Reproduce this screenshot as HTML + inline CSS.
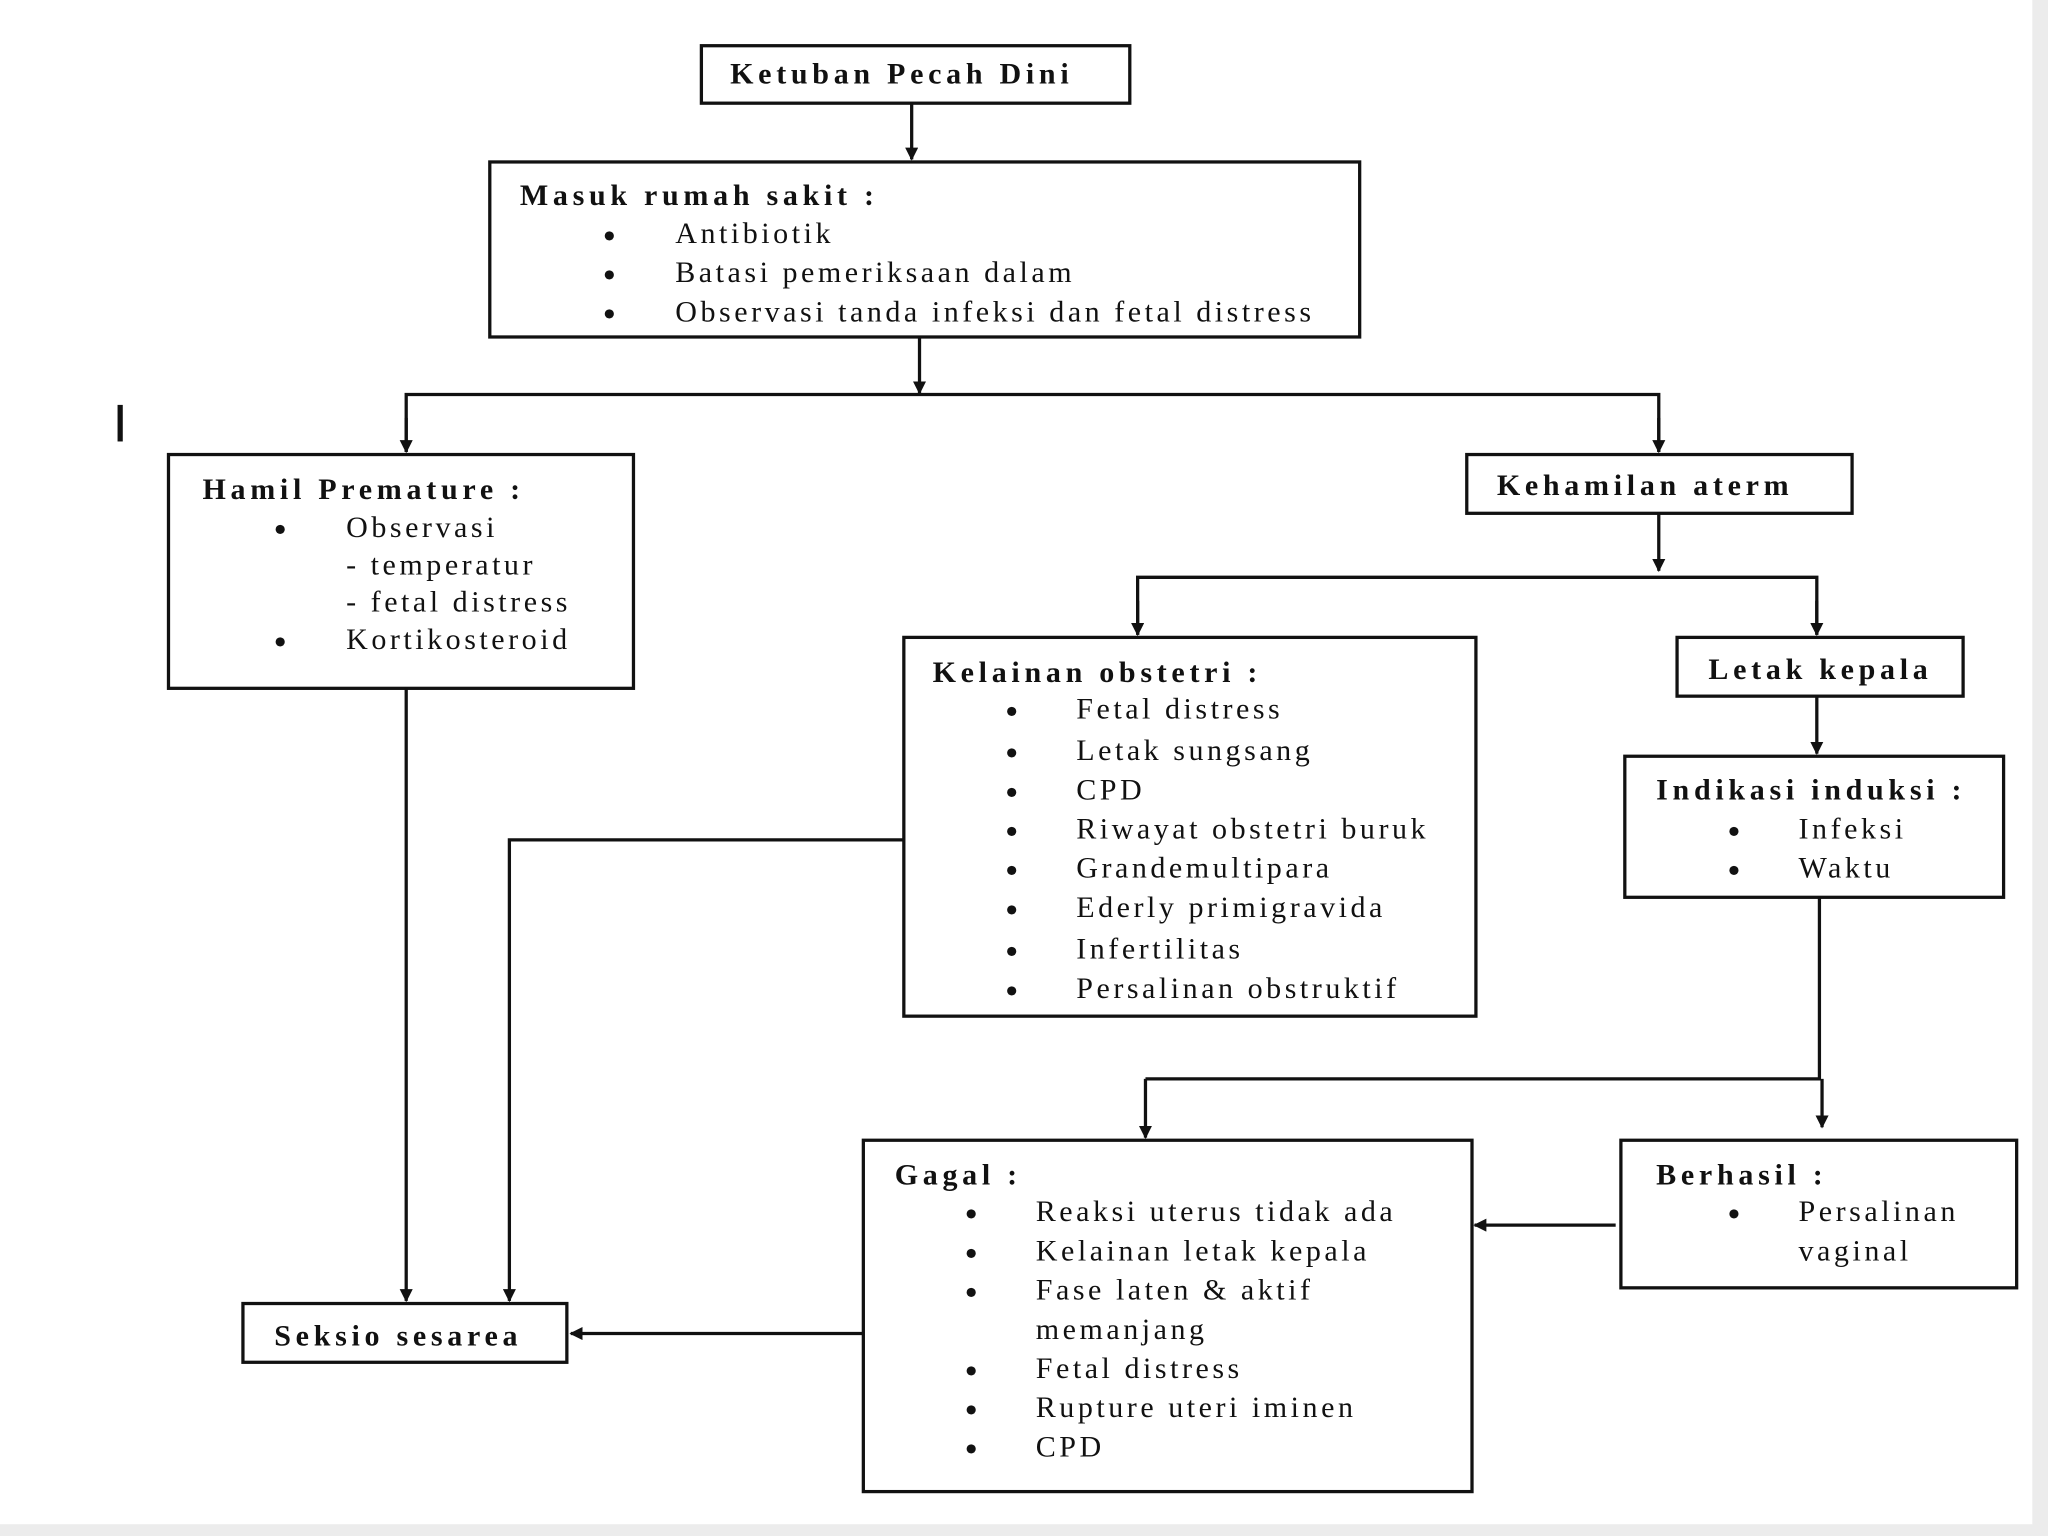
<!DOCTYPE html>
<html><head><meta charset="utf-8"><style>
html,body{margin:0;padding:0;background:#fff;}
svg{display:block;}
text{font-family:"Liberation Serif",serif;font-size:23px;fill:#111;letter-spacing:2.7px;}
.b{font-weight:bold;letter-spacing:3.6px;}
.d{font-size:26px;font-weight:bold;letter-spacing:0;}
</style></head><body>
<svg width="2048" height="1536" viewBox="0 0 1568 1176" preserveAspectRatio="none" xmlns="http://www.w3.org/2000/svg">
<defs><marker id="a" markerWidth="10" markerHeight="10" refX="9" refY="5" orient="auto" markerUnits="userSpaceOnUse"><path d="M0,0 L10,5 L0,10 z" fill="#111"/></marker></defs>
<rect x="0" y="0" width="1568" height="1176" fill="#fff"/>
<rect x="1556" y="0" width="12" height="1176" fill="#ececec"/>
<rect x="0" y="1167" width="1568" height="9" fill="#ececec"/>
<g fill="none" stroke="#111" stroke-width="2.5">
<rect x="537" y="35" width="328" height="44"/>
<rect x="375" y="124" width="666" height="134"/>
<rect x="129" y="348" width="356" height="179"/>
<rect x="1123" y="348" width="295" height="45"/>
<rect x="692" y="488" width="438" height="290"/>
<rect x="1284" y="488" width="219" height="45"/>
<rect x="1244" y="579" width="290" height="108"/>
<rect x="661" y="873" width="466" height="269"/>
<rect x="1241" y="873" width="303" height="113"/>
<rect x="186" y="998" width="248" height="45"/>
</g>
<g fill="none" stroke="#111" stroke-width="2.5">
<line x1="698" y1="79" x2="698" y2="122" marker-end="url(#a)"/>
<line x1="704" y1="258" x2="704" y2="301" marker-end="url(#a)"/>
<polyline points="311,346 311,302 1270,302 1270,346"/>
<line x1="311" y1="320" x2="311" y2="346" marker-end="url(#a)"/>
<line x1="1270" y1="320" x2="1270" y2="346" marker-end="url(#a)"/>
<line x1="1270" y1="393" x2="1270" y2="437" marker-end="url(#a)"/>
<polyline points="871,486 871,442 1391,442 1391,486"/>
<line x1="871" y1="460" x2="871" y2="486" marker-end="url(#a)"/>
<line x1="1391" y1="460" x2="1391" y2="486" marker-end="url(#a)"/>
<line x1="1391" y1="533" x2="1391" y2="577" marker-end="url(#a)"/>
<polyline points="1393,687 1393,826 877,826"/>
<line x1="877" y1="826" x2="877" y2="871" marker-end="url(#a)"/>
<line x1="1395" y1="826" x2="1395" y2="863" marker-end="url(#a)"/>
<line x1="1237" y1="938" x2="1129" y2="938" marker-end="url(#a)"/>
<line x1="311" y1="527" x2="311" y2="996" marker-end="url(#a)"/>
<polyline points="692,643 390,643 390,996" marker-end="url(#a)"/>
<line x1="661" y1="1021" x2="437" y2="1021" marker-end="url(#a)"/>
<line x1="92" y1="310" x2="92" y2="338" stroke-width="4"/>
</g>
<text class="b" x="559" y="64">Ketuban Pecah  Dini</text>
<text class="b" x="398" y="157">Masuk rumah sakit :</text>
<g><text class="d" x="462" y="189">•</text><text x="517" y="186">Antibiotik</text>
<text class="d" x="462" y="219">•</text><text x="517" y="216">Batasi pemeriksaan  dalam</text>
<text class="d" x="462" y="249">•</text><text x="517" y="246">Observasi tanda  infeksi dan fetal  distress</text></g>
<text class="b" x="155" y="382">Hamil Premature :</text>
<text class="d" x="210" y="414">•</text><text x="265" y="411">Observasi</text>
<text x="265" y="440">- temperatur</text>
<text x="265" y="468">- fetal distress</text>
<text class="d" x="210" y="500">•</text><text x="265" y="497">Kortikosteroid</text>
<text class="b" x="1146" y="379">Kehamilan aterm</text>
<text class="b" x="714" y="522">Kelainan obstetri :</text>
<g>
<text class="d" x="770" y="553">•</text><text x="824" y="550">Fetal distress</text>
<text class="d" x="770" y="585">•</text><text x="824" y="582">Letak sungsang</text>
<text class="d" x="770" y="615">•</text><text x="824" y="612">CPD</text>
<text class="d" x="770" y="645">•</text><text x="824" y="642">Riwayat obstetri buruk</text>
<text class="d" x="770" y="675">•</text><text x="824" y="672">Grandemultipara</text>
<text class="d" x="770" y="705">•</text><text x="824" y="702">Ederly primigravida</text>
<text class="d" x="770" y="737">•</text><text x="824" y="734">Infertilitas</text>
<text class="d" x="770" y="767">•</text><text x="824" y="764">Persalinan obstruktif</text>
</g>
<text class="b" x="1308" y="520">Letak kepala</text>
<text class="b" x="1268" y="612">Indikasi induksi :</text>
<text class="d" x="1323" y="645">•</text><text x="1377" y="642">Infeksi</text>
<text class="d" x="1323" y="675">•</text><text x="1377" y="672">Waktu</text>
<text class="b" x="685" y="907">Gagal :</text>
<g>
<text class="d" x="739" y="938">•</text><text x="793" y="935">Reaksi uterus tidak ada</text>
<text class="d" x="739" y="968">•</text><text x="793" y="965">Kelainan letak kepala</text>
<text class="d" x="739" y="998">•</text><text x="793" y="995">Fase laten &amp; aktif</text>
<text x="793" y="1025">memanjang</text>
<text class="d" x="739" y="1058">•</text><text x="793" y="1055">Fetal distress</text>
<text class="d" x="739" y="1088">•</text><text x="793" y="1085">Rupture uteri iminen</text>
<text class="d" x="739" y="1118">•</text><text x="793" y="1115">CPD</text>
</g>
<text class="b" x="1268" y="907">Berhasil :</text>
<text class="d" x="1323" y="938">•</text><text x="1377" y="935">Persalinan</text>
<text x="1377" y="965">vaginal</text>
<text class="b" x="210" y="1030">Seksio sesarea</text>
</svg>
</body></html>
